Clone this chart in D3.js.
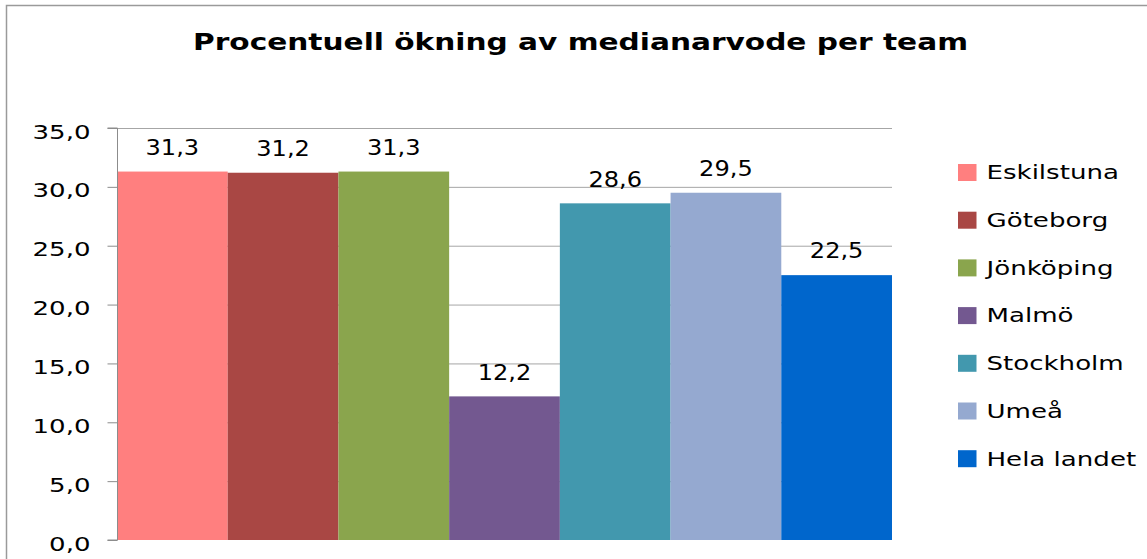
<!DOCTYPE html>
<html>
<head>
    <meta charset="utf-8">
    <script src="https://d3js.org/d3.v7.min.js"></script>
    <style>
        body { margin: 0; background: #fff; }
        text { font-family: "DejaVu Sans", Verdana, sans-serif; fill: #000; }
    </style>
</head>
<body>
    <div id="chart"></div>

    <script>
        // data
        const teams = ["Eskilstuna", "Göteborg", "Jönköping", "Malmö", "Stockholm", "Umeå", "Hela landet"];
        const values = [31.3, 31.2, 31.3, 12.2, 28.6, 29.5, 22.5];
        const colors = ["#ff7f7f", "#a94744", "#8aa54d", "#735890", "#4298ae", "#95a9d0", "#0066cc"];
        const yTicks = [0, 5, 10, 15, 20, 25, 30, 35];
        const title = "Procentuell ökning av medianarvode per team";

        const width = 1147, height = 559;
        const plot = {left: 117, right: 892, top: 128, bottom: 540};

        const fmt = d => d3.format(".1f")(d).replace(".", ",");

        // the original text is drawn wider than the font, so stretch it
        function stretch(sel, factor, anchor) {
            sel.each(function () {
                const t = d3.select(this);
                const w = this.getComputedTextLength() * factor;
                const x0 = +t.attr("x");
                t.attr("textLength", w)
                 .attr("lengthAdjust", "spacingAndGlyphs")
                 .attr("text-anchor", "start")
                 .attr("x", anchor === "middle" ? x0 - w / 2 : anchor === "end" ? x0 - w : x0);
            });
        }

        const svg = d3.select("#chart")
            .append("svg")
            .attr("width", width)
            .attr("height", height);

        // outer frame
        svg.append("rect")
            .attr("x", 6.5).attr("y", 5.5)
            .attr("width", width + 10).attr("height", height + 10)
            .attr("fill", "none")
            .attr("stroke", "#9a9a9a")
            .attr("stroke-width", 1.5);

        const x = d3.scaleBand()
            .domain(teams)
            .range([plot.left, plot.right])
            .padding(0);

        const y = d3.scaleLinear()
            .domain([0, 35])
            .range([plot.bottom, plot.top]);

        // gridlines
        svg.append("g")
            .selectAll("line")
            .data(yTicks.filter(d => d > 0))
            .enter()
            .append("line")
            .attr("x1", plot.left).attr("x2", plot.right)
            .attr("y1", d => y(d) + 0.5).attr("y2", d => y(d) + 0.5)
            .attr("stroke", "#a6a6a6")
            .attr("stroke-width", 1);

        // bars
        svg.append("g")
            .selectAll("rect")
            .data(values)
            .enter()
            .append("rect")
            .attr("x", (d, i) => x(teams[i]))
            .attr("y", d => y(d))
            .attr("width", x.bandwidth())
            .attr("height", d => y(0) - y(d))
            .attr("fill", (d, i) => colors[i]);

        // y axis
        const yAxis = svg.append("g")
            .attr("transform", `translate(${plot.left + 0.5},0)`)
            .call(d3.axisLeft(y).tickValues(yTicks).tickSize(10).tickFormat(fmt));
        yAxis.select(".domain").attr("stroke", "#8c8c8c").attr("d", `M-10,${plot.top}H0V${plot.bottom}H-10`);
        yAxis.selectAll(".tick line").attr("stroke", "#8c8c8c");
        yAxis.selectAll(".tick text")
            .attr("x", 90.5 - plot.left - 0.5)
            .attr("y", 10)
            .attr("dy", null)
            .attr("fill", "#000")
            .attr("font-family", null)
            .attr("font-size", null)
            .style("font-size", "19px")
            .call(stretch, 1.37, "end");

        // value labels
        svg.append("g")
            .selectAll("text")
            .data(values)
            .enter()
            .append("text")
            .attr("x", (d, i) => x(teams[i]) + x.bandwidth() / 2)
            .attr("y", d => y(d) - 16.8)
            .style("font-size", "21.5px")
            .text(fmt)
            .call(stretch, 1.12, "middle");

        // title
        svg.append("text")
            .attr("x", 580.5)
            .attr("y", 49.5)
            .style("font-weight", "bold")
            .style("font-size", "23px")
            .text(title)
            .call(function (sel) {
                const w = sel.node().getComputedTextLength();
                stretch(sel, 775 / w, "middle");
            });

        // legend
        const legend = svg.append("g")
            .selectAll("g")
            .data(teams)
            .enter()
            .append("g")
            .attr("transform", (d, i) => `translate(958,${172 + i * 47.7})`);

        legend.append("rect")
            .attr("x", 0).attr("y", -8)
            .attr("width", 18.5).attr("height", 17)
            .attr("fill", (d, i) => colors[i]);

        legend.append("text")
            .attr("x", 28.5)
            .attr("y", 7.3)
            .style("font-size", "19.6px")
            .text(d => d)
            .call(stretch, 1.33, "start");
    </script>
</body>
</html>
